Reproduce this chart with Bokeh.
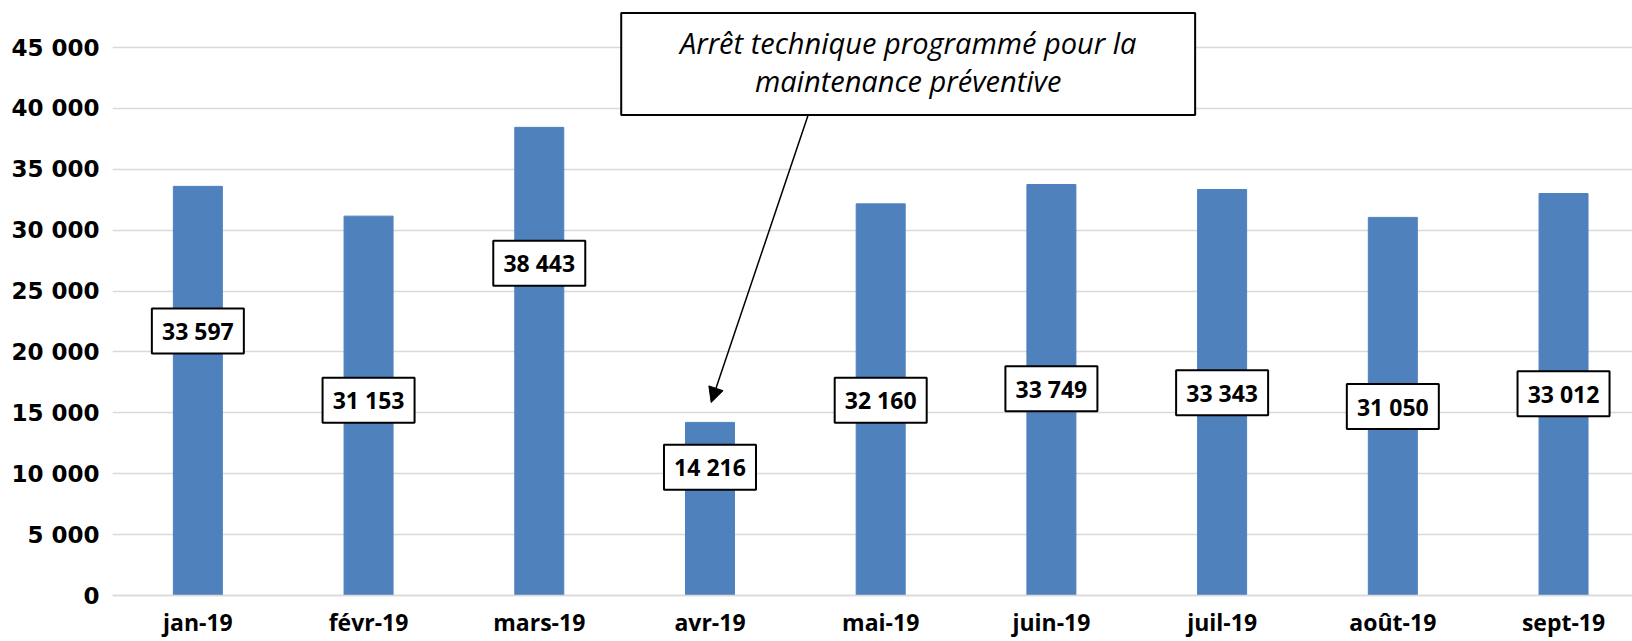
from bokeh.plotting import figure
from bokeh.models import (Range1d, FixedTicker, ColumnDataSource, Label,
                          BoxAnnotation, Arrow, NormalHead)
from bokeh.core.properties import value
from bokeh.embed import file_html
from bokeh.resources import INLINE

# ---------------- data ----------------
months = ["jan-19", "févr-19", "mars-19", "avr-19", "mai-19",
          "juin-19", "juil-19", "août-19", "sept-19"]
production = [33597, 31153, 38443, 14216, 32160, 33749, 33343, 31050, 33012]
y_ticks = [0, 5000, 10000, 15000, 20000, 25000, 30000, 35000, 40000, 45000]
note_lines = ["Arrêt technique programmé pour la", "maintenance préventive"]

# layout: vertical centre of each value box (data units)
label_pos = [21720, 16040, 27280, 10530, 16040, 16980, 16640, 15520, 16560]


def fmt(v):
    return f"{v:,}".replace(",", " ")


x_pos = [i + 0.5 for i in range(len(months))]
src = ColumnDataSource(dict(x=x_pos, top=production, ly=label_pos,
                            txt=[fmt(v) for v in production]))

BLUE = "#4f81bd"
GRID = "#d9d9d9"
FONT = "Open Sans"

p = figure(width=1632, height=641, output_backend="svg", toolbar_location=None,
           x_range=Range1d(0, 8.904), y_range=Range1d(-3777, 48860),
           min_border_left=112, min_border_right=0, min_border_top=0,
           min_border_bottom=0)
p.outline_line_color = None
p.background_fill_color = "white"

p.vbar(x="x", top="top", width=0.287, source=src, color=BLUE)

# x axis drawn at value 0
p.xaxis.fixed_location = 0
p.xaxis.ticker = FixedTicker(ticks=x_pos)
p.xaxis.major_label_overrides = {x: m for x, m in zip(x_pos, months)}
p.xaxis.axis_line_color = GRID
p.xaxis.axis_line_width = 1.5
p.xaxis.major_tick_line_color = None
p.xaxis.minor_tick_line_color = None
p.xaxis.major_tick_out = 0
p.xaxis.major_label_standoff = 10
p.xaxis.major_label_text_font = FONT
p.xaxis.major_label_text_font_style = "bold"
p.xaxis.major_label_text_font_size = "23px"
p.xaxis.major_label_text_color = "black"
p.xgrid.grid_line_color = None

p.yaxis.ticker = FixedTicker(ticks=y_ticks)
p.yaxis.major_label_overrides = {t: fmt(t) for t in y_ticks}
p.yaxis.axis_line_color = None
p.yaxis.major_tick_line_color = None
p.yaxis.minor_tick_line_color = None
p.yaxis.major_tick_out = 0
p.yaxis.major_label_standoff = 13
p.yaxis.major_label_text_font = "DejaVu Sans"
p.yaxis.major_label_text_font_style = "bold"
p.yaxis.major_label_text_font_size = "23px"
p.yaxis.major_label_text_color = "black"
p.ygrid.ticker = FixedTicker(ticks=y_ticks)
p.ygrid.grid_line_color = GRID
p.ygrid.grid_line_width = 1.5

# value boxes
p.rect(x="x", y="ly", width=92, height=45, width_units="screen",
       height_units="screen", source=src, fill_color="white",
       line_color="black", line_width=2)
p.text(x="x", y="ly", text="txt", source=src, text_align="center",
       text_baseline="middle", text_font=value(FONT), text_font_style="bold",
       text_font_size="23px", text_color="black")

# annotation callout
p.add_layout(BoxAnnotation(left=2.98, right=6.342, bottom=39457, top=47833,
                           fill_color="white", fill_alpha=1.0,
                           line_color="black", line_alpha=1.0, line_width=2))
for ly, line in zip([45410, 42250], note_lines):
    p.add_layout(Label(x=4.661, y=ly, text=line, text_align="center",
                       text_baseline="middle", text_font=FONT,
                       text_font_style="italic", text_font_size="29px",
                       text_color="black"))
p.add_layout(Arrow(end=NormalHead(size=15, fill_color="black", line_color="black"),
                   x_start=4.075, y_start=39457, x_end=3.507, y_end=15850,
                   line_color="black", line_width=1.5))

open("out.html", "w").write(file_html(p, INLINE))
